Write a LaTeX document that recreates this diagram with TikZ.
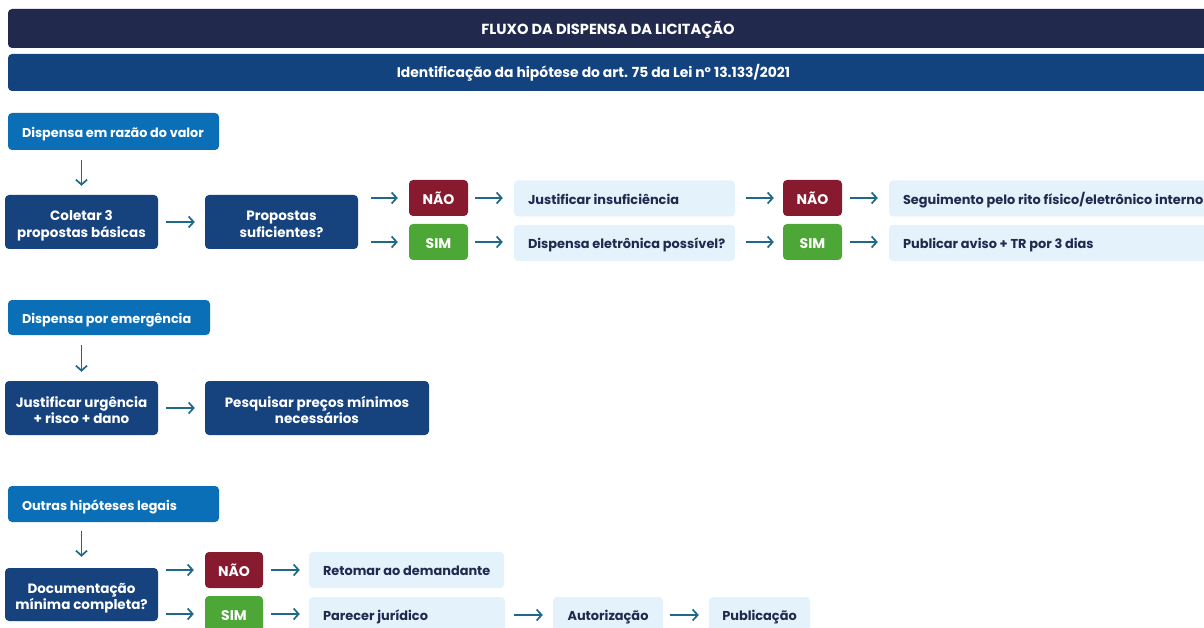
\documentclass[tikz,border=0pt]{standalone}
\usepackage{fontspec}
\setmainfont{Poppins}
\usetikzlibrary{arrows.meta}
\definecolor{navy}{HTML}{212A4C}
\definecolor{subhdr}{HTML}{13437F}
\definecolor{catblue}{HTML}{0B6FB8}
\definecolor{darkbox}{HTML}{16437E}
\definecolor{naored}{HTML}{881A30}
\definecolor{simgreen}{HTML}{4DA737}
\definecolor{lightbox}{HTML}{E4F2FC}
\definecolor{darktext}{HTML}{1F2A4E}
\definecolor{arrowc}{HTML}{1E6888}
\newcommand{\topstrut}[1]{\rule{0pt}{#1}}
\newcommand{\botstrut}[1]{\rule[-#1]{0pt}{#1}}
\tikzset{
  base/.style={rounded corners=4pt, inner sep=0pt},
  ctr/.style={align=flush center, execute at begin node={\topstrut{#1}}, execute at end node={\botstrut{4pt}}},
  lft/.style={align=flush left, execute at begin node={\hspace*{14pt}\topstrut{#1}}, execute at end node={\botstrut{4pt}}},
  hdrtxt/.style={inner sep=0pt, text=white, font=\fontsize{14.6}{17}\selectfont\bfseries, ctr=17pt},
  subtxt/.style={inner sep=0pt, text=white, font=\fontsize{13.9}{17}\selectfont\bfseries, ctr=15pt},
  hdr/.style={base, fill=navy},
  sub/.style={base, fill=subhdr},
  cat/.style={base, fill=catblue, text=white, font=\fontsize{12.8}{15}\selectfont\bfseries, lft=16.6pt},
  dark/.style={base, fill=darkbox, text=white, font=\fontsize{13.5}{16.3}\selectfont\bfseries, ctr=18.3pt},
  nao/.style={base, fill=naored, text=white, font=\fontsize{14}{16}\selectfont\bfseries, ctr=16.5pt},
  sim/.style={base, fill=simgreen, text=white, font=\fontsize{14}{16}\selectfont\bfseries, ctr=16.5pt},
  light/.style={base, fill=lightbox, text=darktext, font=\fontsize{12.9}{15}\selectfont\bfseries, lft=15.8pt},
  lightc/.style={base, fill=lightbox, text=darktext, font=\fontsize{12.9}{15}\selectfont\bfseries, ctr=15.8pt},
  box/.style 2 args={minimum width=#1, text width=#1, minimum height=#2},
  arr/.style={draw=arrowc, line width=1.7pt, -{Straight Barb[length=5pt,width=11pt,line width=1.7pt]}, shorten <=8pt, shorten >=10pt},
}
\begin{document}
\begin{tikzpicture}[x=1pt,y=-1pt]
\useasboundingbox (0,0) rectangle (1204,628);
\clip (0,0) rectangle (1204,628);
% headers
\node[hdr, minimum width=1210pt, minimum height=39pt] (title) at (613,28.5) {};
\node[hdrtxt, text width=600pt] (titletxt) at (608,28.5) {FLUXO DA DISPENSA DA LICITAÇÃO};
\node[sub, minimum width=1210pt, minimum height=37pt] (subtitle) at (613,72.5) {};
\node[subtxt, text width=600pt] (subtxt) at (593.5,72.5) {Identificação da hipótese do art. 75 da Lei nº 13.133/2021};
% section 1
\node[cat, box={211pt}{37pt}] (c1) at (113.5,131.5) {Dispensa em razão do valor};
\node[dark, box={153pt}{54pt}] (d1) at (81.5,222) {Coletar 3\\propostas básicas};
\node[dark, box={153pt}{54pt}] (d2) at (281.5,222) {Propostas\\suficientes?};
\node[nao, box={59pt}{36pt}] (n1) at (438.5,198) {NÃO};
\node[sim, box={59pt}{36pt}] (s1) at (438.5,242) {SIM};
\node[light, box={221pt}{36pt}] (l1) at (624.5,198.5) {Justificar insuficiência};
\node[light, box={221pt}{36pt}] (l2) at (624.5,243) {Dispensa eletrônica possível?};
\node[nao, box={59pt}{36pt}] (n2) at (812.5,198) {NÃO};
\node[sim, box={59pt}{36pt}] (s2) at (812.5,242) {SIM};
\node[light, box={340pt}{36pt}] (l3) at (1059,198.5) {Seguimento pelo rito físico/eletrônico interno};
\node[light, box={340pt}{36pt}] (l4) at (1059,243) {Publicar aviso + TR por 3 dias};
\draw[arr, shorten <=10pt, shorten >=9pt] (c1.south -| d1.north) -- (d1.north);
\draw[arr] (d1) -- (d2);
\draw[arr, shorten <=13pt, shorten >=11pt] (d2.east |- n1.west) -- (n1.west);
\draw[arr, shorten <=13pt, shorten >=11pt] (d2.east |- s1.west) -- (s1.west);
\draw[arr, shorten <=7pt, shorten >=11pt] (n1.east) -- (n1.east -| l1.west);
\draw[arr, shorten <=7pt, shorten >=11pt] (s1.east) -- (s1.east -| l2.west);
\draw[arr, shorten <=11pt, shorten >=9pt] (l1.east |- n2.west) -- (n2.west);
\draw[arr, shorten <=11pt, shorten >=9pt] (l2.east |- s2.west) -- (s2.west);
\draw[arr, shorten <=8pt, shorten >=11pt] (n2.east) -- (n2.east -| l3.west);
\draw[arr, shorten <=8pt, shorten >=11pt] (s2.east) -- (s2.east -| l4.west);
% section 2
\node[cat, box={202pt}{35pt}] (c2) at (109,317.5) {Dispensa por emergência};
\node[dark, box={153pt}{54pt}] (d3) at (81.5,408) {Justificar urgência\\+ risco + dano};
\node[dark, box={224pt}{54pt}] (d4) at (317,408) {Pesquisar preços mínimos\\necessários};
\draw[arr, shorten <=10pt, shorten >=9pt] (c2.south -| d3.north) -- (d3.north);
\draw[arr] (d3) -- (d4);
% section 3
\node[cat, box={211pt}{36pt}] (c3) at (113.5,504) {Outras hipóteses legais};
\node[dark, box={153pt}{53pt}] (d5) at (81.5,594.5) {Documentação\\mínima completa?};
\node[nao, box={58pt}{36pt}] (n3) at (234,570) {NÃO};
\node[sim, box={58pt}{36pt}] (s3) at (234,614) {SIM};
\node[light, box={195pt}{36pt}] (l5) at (406.5,570) {Retomar ao demandante};
\node[light, box={196pt}{36pt}] (l6) at (407,615) {Parecer jurídico};
\node[lightc, box={110pt}{36pt}] (l7) at (608,615) {Autorização};
\node[lightc, box={101pt}{36pt}] (l8) at (759.5,615) {Publicação};
\draw[arr, shorten <=9pt, shorten >=11pt] (c3.south -| d5.north) -- (d5.north);
\draw[arr, shorten <=8pt, shorten >=11pt] (d5.east |- n3.west) -- (n3.west);
\draw[arr, shorten <=8pt, shorten >=11pt] (d5.east |- s3.west) -- (s3.west);
\draw[arr, shorten <=8pt, shorten >=9pt] (n3.east) -- (n3.east -| l5.west);
\draw[arr, shorten <=8pt, shorten >=9pt] (s3.east) -- (s3.east -| l6.west);
\draw[arr, shorten <=9pt, shorten >=10pt] (l6.east) -- (l7.west);
\draw[arr, shorten <=7pt, shorten >=10pt] (l7) -- (l8);
\end{tikzpicture}
\end{document}
